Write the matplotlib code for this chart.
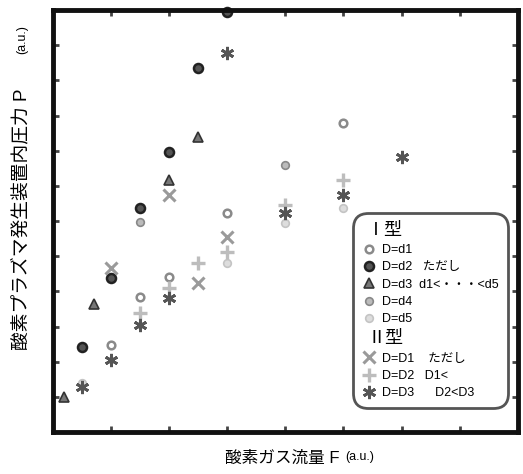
import matplotlib.pyplot as plt
from matplotlib.lines import Line2D

plt.rcParams['font.family'] = ['Liberation Sans', 'Noto Sans CJK JP', 'DejaVu Sans']

# type I (D = d1 ... d5)
x_d1 = [1.0, 1.5, 2.0, 3.0, 5.0]
y_d1 = [2.47, 3.85, 4.42, 6.22, 8.8]
x_d2 = [0.5, 1.0, 1.5, 2.0, 2.5, 3.0]
y_d2 = [2.42, 4.38, 6.37, 7.96, 10.36, 11.95]
x_d3 = [0.2, 0.7, 2.0, 2.5]
y_d3 = [1.0, 3.64, 7.16, 8.39]
x_d4 = [1.5, 4.0]
y_d4 = [5.98, 7.59]
x_d5 = [0.5, 3.0, 4.0, 5.0]
y_d5 = [1.4, 4.8, 5.95, 6.37]

# type II (D = D1 ... D3)
x_D1 = [1.0, 2.0, 2.5, 3.0]
y_D1 = [4.66, 6.74, 4.23, 5.55]
x_D2 = [1.5, 2.0, 2.5, 3.0, 4.0, 5.0]
y_D2 = [3.38, 4.09, 4.8, 5.12, 6.45, 7.16]
x_D3 = [0.5, 1.0, 1.5, 2.0, 3.0, 4.0, 5.0, 6.0]
y_D3 = [1.28, 2.05, 3.04, 3.8, 10.77, 6.22, 6.74, 7.83]

labels_1 = ['D=d1', 'D=d2   ただし', 'D=d3  d1<・・・<d5', 'D=d4', 'D=d5']
labels_2 = ['D=D1    ただし', 'D=D2   D1<', 'D=D3      D2<D3']

fig = plt.figure(figsize=(5.23, 4.74), dpi=100)
ax = fig.add_axes([0.101, 0.0886, 0.889, 0.890])

h_d1, = ax.plot(x_d1, y_d1, 'o', ms=5.5, mfc='white', mec='#8a8a8a', mew=1.8,
                clip_on=False, label=labels_1[0])
h_d2, = ax.plot(x_d2, y_d2, 'o', ms=6.5, mfc='#555555', mec='#222222', mew=1.8,
                clip_on=False, label=labels_1[1])
h_d3, = ax.plot(x_d3, y_d3, '^', ms=6.5, mfc='#777777', mec='#333333', mew=1.2,
                clip_on=False, label=labels_1[2])
h_d4, = ax.plot(x_d4, y_d4, 'o', ms=5.5, mfc='#bbbbbb', mec='#888888', mew=1.2,
                clip_on=False, label=labels_1[3])
h_d5, = ax.plot(x_d5, y_d5, 'o', ms=5.5, mfc='#dddddd', mec='#c4c4c4', mew=1.2,
                clip_on=False, label=labels_1[4])
h_D1, = ax.plot(x_D1, y_D1, 'x', ms=8.5, mec='#9a9a9a', mew=2.2,
                clip_on=False, label=labels_2[0])
h_D2, = ax.plot(x_D2, y_D2, '+', ms=9.5, mec='#bdbdbd', mew=2.4,
                clip_on=False, label=labels_2[1])
h_D3, = ax.plot(x_D3, y_D3, marker=(6, 2, 0), ls='none', ms=9.5, mec='#555555',
                mew=2.0, clip_on=False, label=labels_2[2])

ax.set_xlim(0, 8)
ax.set_ylim(0, 12)
ax.set_xticks(range(1, 8))
ax.set_yticks(range(1, 12))
ax.tick_params(direction='in', length=4, width=2, color='#444444',
               top=True, right=True, labelbottom=False, labelleft=False)
for s in ax.spines.values():
    s.set_linewidth(3.5)
    s.set_color('#111111')

blank = Line2D([], [], ls='none')
handles = [blank, h_d1, h_d2, h_d3, h_d4, h_d5, blank, h_D1, h_D2, h_D3]
labels = ['Ⅰ型'] + labels_1 + ['Ⅱ型'] + labels_2
leg = ax.legend(handles, labels, loc='lower right',
                bbox_to_anchor=(0.978, 0.057), fontsize=9, handlelength=1.1,
                handletextpad=0.5, labelspacing=0.42, borderpad=0.7,
                borderaxespad=0, fancybox=True, framealpha=1,
                edgecolor='#555555')
leg.get_frame().set_linewidth(2)
leg.get_frame().set_boxstyle('round', pad=0, rounding_size=1.2)
for i in (0, 6):
    t = leg.get_texts()[i]
    t.set_fontsize(13)
    t.set_x(-15)

fig.text(0.042, 0.262, '酸素プラズマ発生装置内圧力 P', rotation=90,
         fontsize=13.5, ha='center', va='bottom')
fig.text(0.042, 0.947, '(a.u.)', rotation=90, fontsize=9,
         ha='center', va='top')
fig.text(0.43, 0.033, '酸素ガス流量 F', fontsize=12, ha='left', va='center')
fig.text(0.66, 0.036, '(a.u.)', fontsize=9, ha='left', va='center')

fig.savefig('out.png', dpi=100)
